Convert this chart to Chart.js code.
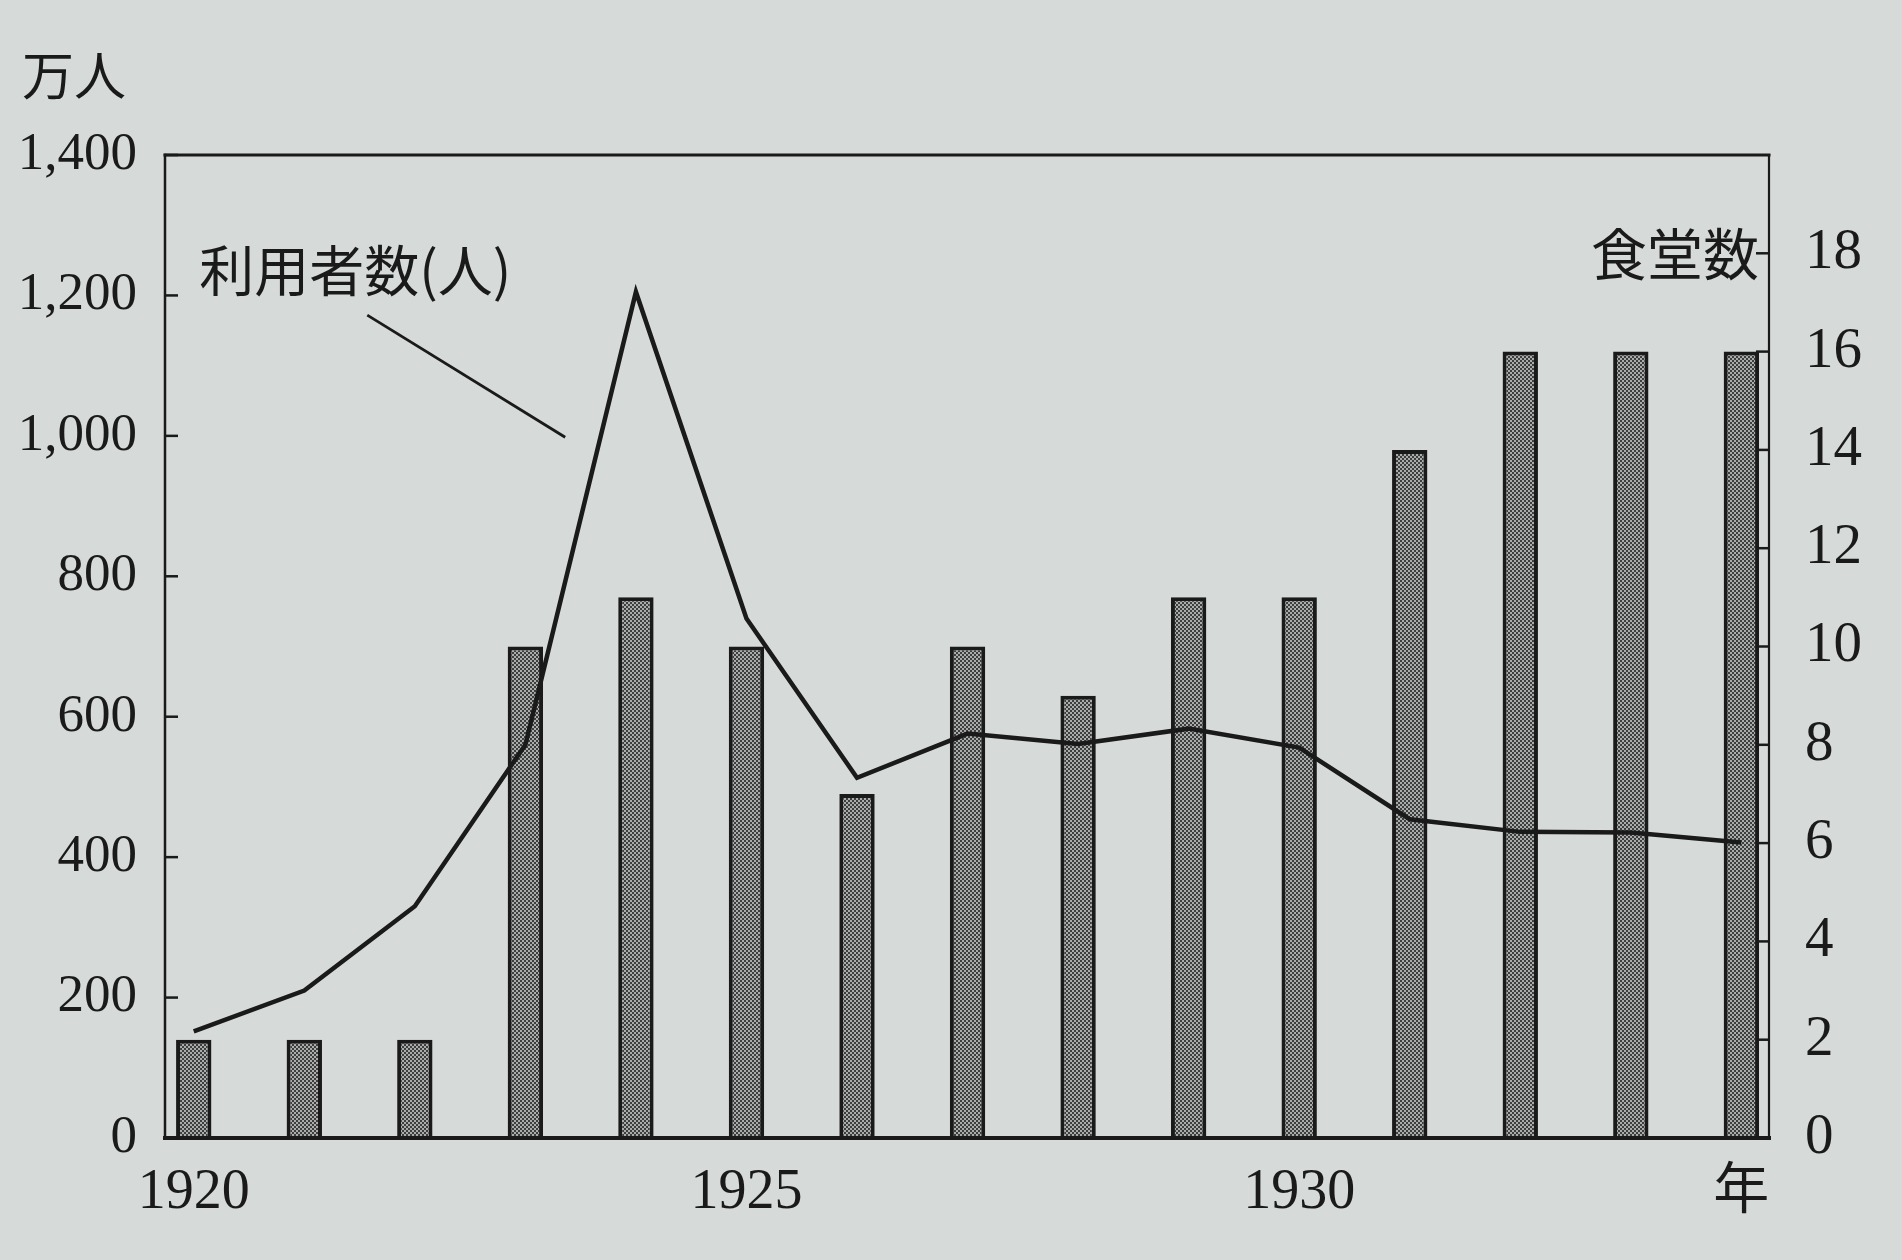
<!DOCTYPE html>
<html>
<head>
<meta charset="utf-8">
<script src="https://cdn.jsdelivr.net/npm/chart.js@4.4.1/dist/chart.umd.min.js"></script>
<style>
html,body{margin:0;padding:0;background:#d6dad9;}
canvas{display:block;}
</style>
</head>
<body>
<canvas id="c" width="1902" height="1260"></canvas>
<script>
// ---- data ----
const years = [1920,1921,1922,1923,1924,1925,1926,1927,1928,1929,1930,1931,1932,1933,1934];
const canteenCounts = [2,2,2,10,11,10,7,10,9,11,11,14,16,16,16];          // 食堂数 (right axis)
const userCounts = [152,210,330,560,1205,740,513,576,561,583,556,454,436,435,421]; // 利用者数 万人 (left axis)
const leftTicks = [0,200,400,600,800,1000,1200,1400];
const rightTicks = [0,2,4,6,8,10,12,14,16,18];
const xTickYears = [1920,1925,1930];
const xUnitLabel = '年';
const leftUnitLabel = '万人';
const rightUnitLabel = '食堂数';
const lineLabel = '利用者数(人)';

const BG = '#d6dad9';
const INK = '#1a1a1a';
const AREA = {left:165, right:1769, top:155, bottom:1138};
const W = 1902, H = 1260;
const SERIF = '"Liberation Serif", "Noto Sans CJK JP", serif';
const CJK = '"Noto Sans CJK JP", sans-serif';

function makePattern(){
  const c = document.createElement('canvas');
  c.width = 4; c.height = 4;
  const g = c.getContext('2d');
  g.fillStyle = '#a9acab'; g.fillRect(0,0,4,4);
  g.fillStyle = '#3d3e3e'; g.fillRect(0,0,2,2); g.fillRect(2,2,2,2);
  return g.createPattern(c,'repeat');
}

const bgPlugin = {
  id:'bg',
  beforeDraw(chart){
    const ctx = chart.ctx;
    ctx.save(); ctx.fillStyle = BG; ctx.fillRect(0,0,chart.width,chart.height); ctx.restore();
  }
};

const framePlugin = {
  id:'frame',
  afterDraw(chart){
    const ctx = chart.ctx, a = chart.chartArea;
    const yL = chart.scales.y, yR = chart.scales.y2, x = chart.scales.x;
    ctx.save();
    ctx.strokeStyle = INK; ctx.lineCap = 'square';
    // frame
    ctx.lineWidth = 3; ctx.beginPath(); ctx.moveTo(a.left,a.top); ctx.lineTo(a.right,a.top); ctx.stroke();
    ctx.lineWidth = 2.5; ctx.beginPath(); ctx.moveTo(a.left,a.top); ctx.lineTo(a.left,a.bottom); ctx.stroke();
    ctx.lineWidth = 2.2; ctx.beginPath(); ctx.moveTo(a.right,a.top); ctx.lineTo(a.right,a.bottom); ctx.stroke();
    ctx.lineWidth = 4; ctx.beginPath(); ctx.moveTo(a.left,a.bottom); ctx.lineTo(a.right,a.bottom); ctx.stroke();
    // inner tick marks
    ctx.lineWidth = 2.5; ctx.lineCap = 'butt';
    yL.ticks.forEach(t => {
      const py = yL.getPixelForValue(t.value);
      ctx.beginPath(); ctx.moveTo(a.left,py); ctx.lineTo(a.left+13,py); ctx.stroke();
    });
    yR.ticks.forEach(t => {
      const py = yR.getPixelForValue(t.value);
      ctx.beginPath(); ctx.moveTo(a.right,py); ctx.lineTo(a.right-13,py); ctx.stroke();
    });
    // annotations
    ctx.fillStyle = INK;
    ctx.textBaseline = 'middle';
    ctx.font = '400 52px ' + CJK;
    ctx.textAlign = 'left';
    ctx.fillText(leftUnitLabel, a.left - 143, a.top - 80);
    ctx.font = '400 55px ' + CJK;
    ctx.fillText(lineLabel, x.getPixelForValue(1920.05), yL.getPixelForValue(1236));
    ctx.textAlign = 'right';
    ctx.font = '400 56px ' + CJK;
    ctx.fillText(rightUnitLabel, a.right - 10, yR.getPixelForValue(18));
    // leader line
    ctx.lineWidth = 2.8;
    ctx.beginPath();
    ctx.moveTo(x.getPixelForValue(1921.57), yL.getPixelForValue(1172));
    ctx.lineTo(x.getPixelForValue(1923.36), yL.getPixelForValue(998));
    ctx.stroke();
    ctx.restore();
  }
};

const ctx = document.getElementById('c').getContext('2d');
new Chart(ctx, {
  type: 'bar',
  data: {
    datasets: [
      {
        type: 'line',
        label: lineLabel,
        data: years.map((yr,i) => ({x: yr, y: userCounts[i]})),
        yAxisID: 'y',
        borderColor: INK,
        borderWidth: 4.5,
        pointRadius: 0,
        tension: 0,
        fill: false,
        order: 0
      },
      {
        type: 'bar',
        label: rightUnitLabel,
        data: years.map((yr,i) => ({x: yr, y: canteenCounts[i]})),
        yAxisID: 'y2',
        backgroundColor: makePattern(),
        borderColor: INK,
        borderWidth: 4,
        barPercentage: 0.32,
        categoryPercentage: 1.0,
        order: 1
      }
    ]
  },
  options: {
    responsive: false,
    animation: false,
    devicePixelRatio: 1,
    layout: {padding: {top: AREA.top, left: 0, right: 0, bottom: 0}},
    plugins: {legend: {display: false}, tooltip: {enabled: false}},
    scales: {
      x: {
        type: 'linear',
        offset: false,
        min: 1919.74,
        max: 1934.25,
        grid: {display: false, drawTicks: false},
        border: {display: false},
        afterBuildTicks(scale){ scale.ticks = xTickYears.concat([1934]).map(v => ({value: v})); },
        afterFit(scale){ scale.height = H - AREA.bottom; },
        ticks: {
          autoSkip: false,
          maxRotation: 0,
          padding: 22,
          color: INK,
          font: {family: SERIF, size: 56},
          callback: v => (v === 1934 ? xUnitLabel : String(v))
        }
      },
      y: {
        position: 'left',
        min: 0, max: 1400,
        grid: {display: false, drawTicks: false},
        border: {display: false},
        afterBuildTicks(scale){ scale.ticks = leftTicks.map(v => ({value: v})); },
        afterFit(scale){ scale.width = AREA.left; },
        ticks: {
          padding: 28,
          color: INK,
          font: {family: SERIF, size: 53},
          callback: v => v.toLocaleString('en-US')
        }
      },
      y2: {
        position: 'right',
        min: 0, max: 20,
        grid: {display: false, drawTicks: false},
        border: {display: false},
        afterBuildTicks(scale){ scale.ticks = rightTicks.map(v => ({value: v})); },
        afterFit(scale){ scale.width = W - AREA.right; },
        ticks: {
          padding: 36,
          color: INK,
          font: {family: SERIF, size: 57},
          callback: v => String(v)
        }
      }
    }
  },
  plugins: [bgPlugin, framePlugin]
});
</script>
</body>
</html>
